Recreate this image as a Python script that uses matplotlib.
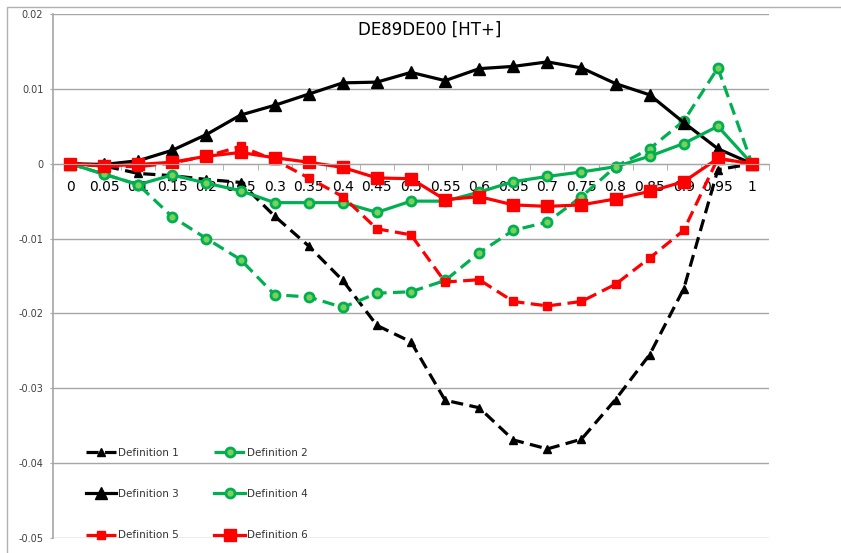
import matplotlib
matplotlib.use("Agg")
import matplotlib.pyplot as plt
from matplotlib.patches import Rectangle

# category axis
categories = ["0", "0.05", "0.1", "0.15", "0.2", "0.25", "0.3", "0.35", "0.4", "0.45", "0.5",
              "0.55", "0.6", "0.65", "0.7", "0.75", "0.8", "0.85", "0.9", "0.95", "1"]

def1 = [0, -0.0003, -0.0013, -0.0016, -0.0021, -0.0025, -0.0070, -0.0110, -0.0156, -0.0216, -0.0238,
        -0.0316, -0.0326, -0.0369, -0.0381, -0.0368, -0.0315, -0.0255, -0.0167, -0.0008, 0]
def2 = [0, -0.0014, -0.0028, -0.0071, -0.0100, -0.0128, -0.0175, -0.0178, -0.0192, -0.0173, -0.0171,
        -0.0156, -0.0119, -0.0089, -0.0078, -0.0044, -0.0004, 0.0020, 0.0057, 0.0128, 0]
def3 = [0, -0.0001, 0.0004, 0.0018, 0.0039, 0.0065, 0.0078, 0.0093, 0.0108, 0.0109, 0.0122,
        0.0111, 0.0127, 0.0130, 0.0136, 0.0128, 0.0107, 0.0092, 0.0055, 0.0020, 0]
def4 = [0, -0.0014, -0.0028, -0.0015, -0.0026, -0.0036, -0.0052, -0.0052, -0.0052, -0.0065, -0.0050,
        -0.0050, -0.0038, -0.0024, -0.0017, -0.0011, -0.0004, 0.0010, 0.0027, 0.0050, 0]
def5 = [0, -0.0003, -0.0004, 0.0001, 0.0010, 0.0023, 0.0005, -0.0019, -0.0044, -0.0087, -0.0095,
        -0.0158, -0.0155, -0.0184, -0.0190, -0.0184, -0.0161, -0.0126, -0.0089, 0.0007, 0]
def6 = [0, -0.0003, -0.0001, 0.0002, 0.0010, 0.0015, 0.0008, 0.0002, -0.0005, -0.0019, -0.0020,
        -0.0048, -0.0044, -0.0055, -0.0057, -0.0055, -0.0047, -0.0037, -0.0024, 0.0007, 0]

green = "#00b050"
green_face = "#7ad15a"
red = "#ff0000"

W, H = 841, 553
fig = plt.figure(figsize=(W / 100, H / 100), dpi=100)
ax = fig.add_axes([53 / W, 1 - 538 / H, (769 - 53) / W, (538 - 14) / H])

x = list(range(len(categories)))
dash = (3.8, 2.0)

h1, = ax.plot(x, def1, color="black", lw=2.3, dashes=dash, marker="^", ms=6,
              label="Definition 1")
h2, = ax.plot(x, def2, color=green, lw=2.3, dashes=dash, marker="o", ms=6.5,
              mfc=green_face, mec=green, mew=2, label="Definition 2")
h3, = ax.plot(x, def3, color="black", lw=2.3, marker="^", ms=8, label="Definition 3")
h4, = ax.plot(x, def4, color=green, lw=2.3, marker="o", ms=6.5,
              mfc=green_face, mec=green, mew=2, label="Definition 4")
h5, = ax.plot(x, def5, color=red, lw=2.3, dashes=dash, marker="s", ms=5.5,
              label="Definition 5")
h6, = ax.plot(x, def6, color=red, lw=2.3, marker="s", ms=9, label="Definition 6")

ax.set_xlim(-0.5, len(categories) - 0.5)
ax.set_ylim(-0.05, 0.02)
ax.set_yticks([0.02, 0.01, 0, -0.01, -0.02, -0.03, -0.04, -0.05])
ax.set_yticklabels(["0.02", "0.01", "0", "-0.01", "-0.02", "-0.03", "-0.04", "-0.05"],
                   fontsize=7, color="#404040")
ax.yaxis.grid(True, color="#a6a6a6", lw=1)
ax.set_axisbelow(True)

ax.set_xticks(x)
ax.set_xticklabels(categories, fontsize=9, fontweight="bold", color="#222222")
ax.set_xticks([i + 0.5 for i in range(-1, len(categories))], minor=True)
ax.tick_params(axis="x", which="major", length=0, pad=12)
ax.tick_params(axis="x", which="minor", length=4, color="#a6a6a6", direction="out")
ax.tick_params(axis="y", length=2.5, color="#a6a6a6", pad=4.5)

ax.spines["bottom"].set_position(("data", 0))
ax.spines["bottom"].set_color("#a6a6a6")
ax.spines["left"].set_color("#a6a6a6")
ax.spines["left"].set_linewidth(1.2)
ax.spines["top"].set_visible(False)
ax.spines["right"].set_visible(False)

fig.text(430 / W, 1 - 30 / H, "DE89DE00 [HT+]", ha="center", va="center", fontsize=12)

leg = ax.legend([h1, h3, h5, h2, h4, h6],
                ["Definition 1", "Definition 3", "Definition 5",
                 "Definition 2", "Definition 4", "Definition 6"],
                ncol=2, loc="lower left", bbox_to_anchor=(0.033, -0.022), frameon=False,
                fontsize=7.5, labelspacing=3.0, handlelength=2.9, handletextpad=0.2,
                columnspacing=3.4)
for t in leg.get_texts():
    t.set_color("#333333")

# outer chart frame
fig.add_artist(Rectangle((7 / W, -0.1), 1.2, 1.1 - 7 / H, transform=fig.transFigure,
                         fill=False, edgecolor="#b0b0b0", lw=1))

fig.savefig("out.png", dpi=100)
